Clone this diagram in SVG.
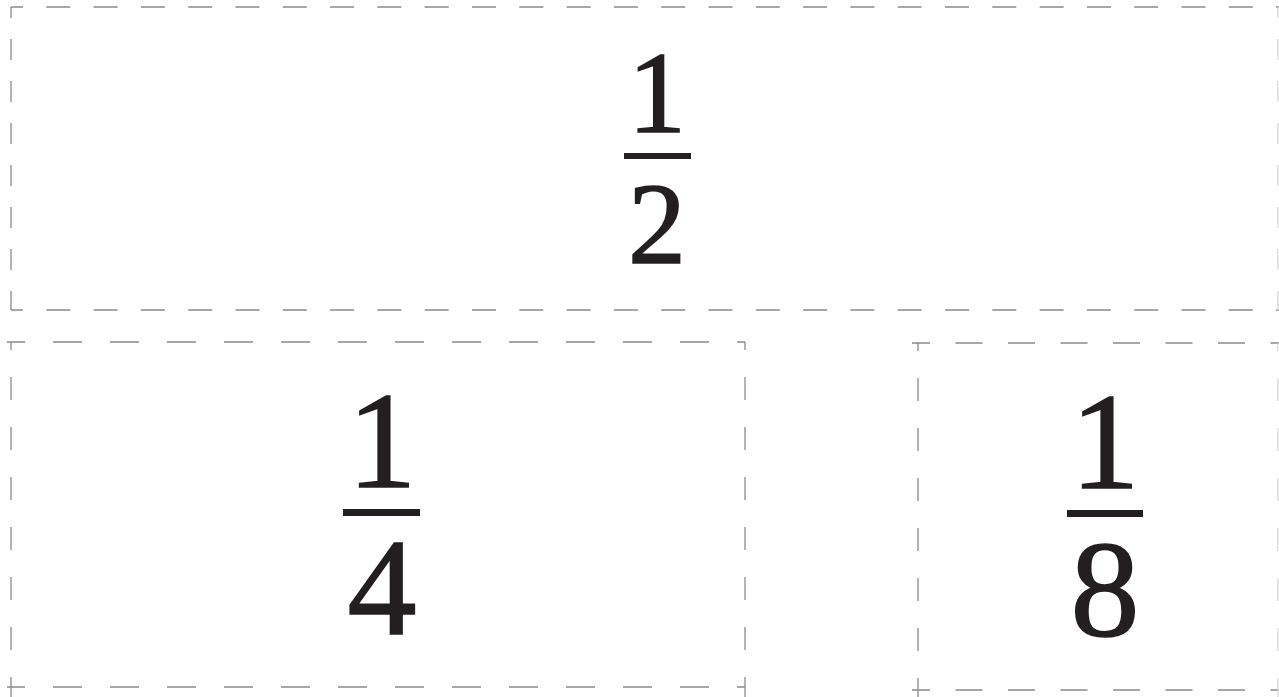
<svg xmlns="http://www.w3.org/2000/svg" width="1279" height="697" viewBox="0 0 1279 697">
<style>
  .d { stroke:#8a8a8a; stroke-width:1.3; fill:none; }
  .faint { stroke:#d8d8d8; }
  .ht { stroke-dasharray:24 23.3; stroke-dashoffset:12; }
  .vt { stroke-dasharray:21 21; stroke-dashoffset:10; }
  .h4 { stroke-dasharray:29 28; stroke-dashoffset:11; }
  .h8 { stroke-dasharray:27 25.5; stroke-dashoffset:9; }
  .vb { stroke-dasharray:23 27; stroke-dashoffset:15; }
  .num { font-family:"Liberation Serif","Times New Roman",serif; fill:#231f20; stroke:#231f20; stroke-width:1.6; text-anchor:middle; }
  .bar { fill:#231f20; }
</style>
<rect width="1279" height="697" fill="#ffffff"/>
<g id="half">
  <line class="d ht" x1="11" y1="7" x2="1279" y2="7"/>
  <line class="d ht" x1="11" y1="310" x2="1279" y2="310"/>
  <line class="d vt" x1="11" y1="7" x2="11" y2="310"/>
  <line class="d vt faint" x1="1278" y1="7" x2="1278" y2="310"/>
  <text class="num" x="657" y="132" font-size="116">1</text>
  <rect class="bar" x="624" y="153" width="67" height="6"/>
  <text class="num" x="657" y="263" font-size="116">2</text>
</g>
<g id="quarter">
  <line class="d h4" x1="7" y1="342" x2="745" y2="342"/>
  <line class="d h4" x1="7" y1="687" x2="745" y2="687"/>
  <line class="d vb" x1="11" y1="342" x2="11" y2="697"/>
  <line class="d vb" x1="745" y1="342" x2="745" y2="697"/>
  <text class="num" x="382" y="487" font-size="138">1</text>
  <rect class="bar" x="343" y="509" width="77" height="7"/>
  <text class="num" x="382" y="634" font-size="138">4</text>
</g>
<g id="eighth">
  <line class="d h8" x1="912" y1="343" x2="1279" y2="343"/>
  <line class="d h8" x1="912" y1="690" x2="1279" y2="690"/>
  <line class="d vb" x1="918" y1="343" x2="918" y2="697"/>
  <line class="d vb faint" x1="1278" y1="343" x2="1278" y2="697"/>
  <text class="num" x="1105" y="488" font-size="138">1</text>
  <rect class="bar" x="1067" y="510" width="76" height="7"/>
  <text class="num" x="1105" y="636" font-size="138">8</text>
</g>
<g id="connectors"></g>
</svg>
